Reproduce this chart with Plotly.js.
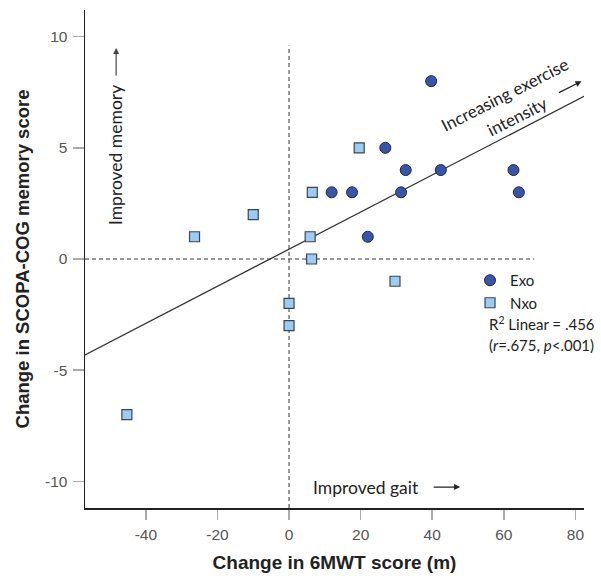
<!DOCTYPE html>
<html>
<head>
<meta charset="utf-8">
<script src="https://cdn.plot.ly/plotly-3.0.1.min.js"></script>
<style>html,body{margin:0;padding:0;background:#fff;}#chart{width:601px;height:578px;}</style>
</head>
<body>
<div id="chart"></div>
<script>
// Exo group (circles)
var exoX = [39.7, 26.9, 32.6, 42.4, 62.7, 11.9, 17.6, 31.3, 64.2, 22.0];
var exoY = [8, 5, 4, 4, 4, 3, 3, 3, 3, 1];
// Nxo group (squares)
var nxoX = [19.6, 6.5, -10.0, -26.4, 5.9, 6.3, 0.0, 0.0, 29.6, -45.3];
var nxoY = [5, 3, 2, 1, 1, 0, -2, -3, -1, -7];

var xTicks = [-40, -20, 0, 20, 40, 60, 80];
var yTicks = [-10, -5, 0, 5, 10];
var xRange = [-57.0, 82.4];
var yRange = [-11.2, 11.2];

// least-squares fit over all points
var allX = exoX.concat(nxoX), allY = exoY.concat(nxoY);
var n = allX.length, mx = 0, my = 0;
for (var i = 0; i < n; i++) { mx += allX[i]; my += allY[i]; }
mx /= n; my /= n;
var sxy = 0, sxx = 0;
for (var i = 0; i < n; i++) { sxy += (allX[i]-mx)*(allY[i]-my); sxx += (allX[i]-mx)*(allX[i]-mx); }
var slope = sxy / sxx, icpt = my - slope * mx;
var fitX = [xRange[0], xRange[1]];
var fitY = fitX.map(function(v){ return icpt + slope * v; });

var calib = 'Lato, "Open Sans", sans-serif';
var arial = '"Liberation Sans", Arial, sans-serif';

var traces = [
  {x: fitX, y: fitY, mode: 'lines', line: {color: '#333', width: 1.3}, showlegend: false, hoverinfo: 'skip'},
  {x: exoX, y: exoY, mode: 'markers', name: 'Exo',
   marker: {symbol: 'circle', size: 11, color: '#3b55a6', line: {color: '#1b2552', width: 1}}},
  {x: nxoX, y: nxoY, mode: 'markers', name: 'Nxo',
   marker: {symbol: 'square', size: 10, color: '#9ccbf3', line: {color: '#3a4655', width: 1.2}}}
];

var layout = {
  width: 601, height: 578,
  margin: {l: 85, r: 17, t: 10, b: 70},
  paper_bgcolor: '#fff', plot_bgcolor: '#fff',
  showlegend: true,
  legend: {x: 0.7716, y: 0.49, xanchor: 'left', yanchor: 'top', bgcolor: 'rgba(0,0,0,0)',
           font: {family: calib, size: 15, color: '#222'}, itemwidth: 30, tracegroupgap: 0},
  xaxis: {range: xRange, tickvals: xTicks, ticktext: xTicks.map(String), showgrid: false, zeroline: false,
          showline: true, linecolor: '#222', linewidth: 1.5, ticks: 'outside', ticklen: 10, tickwidth: 1.5,
          tickcolor: '#aaa', ticklabelstandoff: 2,
          tickfont: {family: arial, size: 15.5, color: '#555'},
          title: {text: '<b>Change in 6MWT score (m)</b>', font: {family: arial, size: 19, color: '#222'}, standoff: 13}},
  yaxis: {range: yRange, tickvals: yTicks, ticktext: yTicks.map(String), showgrid: false, zeroline: false,
          showline: true, linecolor: '#222', linewidth: 1.5, ticks: 'outside', ticklen: 11, tickwidth: 1.5,
          tickcolor: '#aaa', ticklabelstandoff: 2,
          tickfont: {family: arial, size: 15.5, color: '#555'},
          title: {text: '<b>Change in SCOPA-COG memory score</b>', font: {family: arial, size: 18.5, color: '#222'}, standoff: 10}},
  shapes: [
    {type: 'line', xref: 'x', yref: 'y', x0: xRange[0], x1: 68.5, y0: 0, y1: 0, line: {color: '#333', width: 1, dash: '4px,3px'}, layer: 'below'},
    {type: 'line', xref: 'x', yref: 'y', x0: 0, x1: 0, y0: yRange[0], y1: 9.6, line: {color: '#333', width: 1, dash: '4px,3px'}, layer: 'below'}
  ],
  annotations: [
    {x: -48.3, y: 4.68, xref: 'x', yref: 'y', text: 'Improved memory', textangle: -90, showarrow: false,
     font: {family: calib, size: 17.5, color: '#222'}},
    {x: -48.3, y: 9.49, xref: 'x', yref: 'y', text: '', showarrow: true, ax: 0, ay: 29,
     arrowhead: 2, arrowsize: 1, arrowwidth: 1.2, arrowcolor: '#444'},
    {x: 21.4, y: -10.26, xref: 'x', yref: 'y', text: 'Improved gait', showarrow: false,
     font: {family: calib, size: 17.5, color: '#222'}},
    {x: 47.8, y: -10.26, xref: 'x', yref: 'y', text: '', showarrow: true, ax: -28, ay: 0,
     arrowhead: 2, arrowsize: 1, arrowwidth: 1.2, arrowcolor: '#222'},
    {x: 60.3, y: 7.38, xref: 'x', yref: 'y', text: 'Increasing exercise', textangle: -27, showarrow: false,
     font: {family: calib, size: 17, color: '#222'}},
    {x: 63.6, y: 6.40, xref: 'x', yref: 'y', text: 'intensity', textangle: -27, showarrow: false,
     font: {family: calib, size: 17, color: '#222'}},
    {x: 81.7, y: 7.99, xref: 'x', yref: 'y', text: '', showarrow: true, ax: -24, ay: 12,
     arrowhead: 2, arrowsize: 1, arrowwidth: 1.2, arrowcolor: '#222'},
    {x: 55.3, y: -2.88, xref: 'x', yref: 'y', xanchor: 'left', text: 'R<sup>2</sup> Linear = .456', showarrow: false,
     font: {family: calib, size: 15, color: '#222'}},
    {x: 55.3, y: -3.87, xref: 'x', yref: 'y', xanchor: 'left', text: '(<i>r</i>=.675, <i>p</i>&lt;.001)', showarrow: false,
     font: {family: calib, size: 15, color: '#222'}}
  ]
};

Plotly.newPlot('chart', traces, layout, {staticPlot: true, displayModeBar: false});
</script>
</body>
</html>
